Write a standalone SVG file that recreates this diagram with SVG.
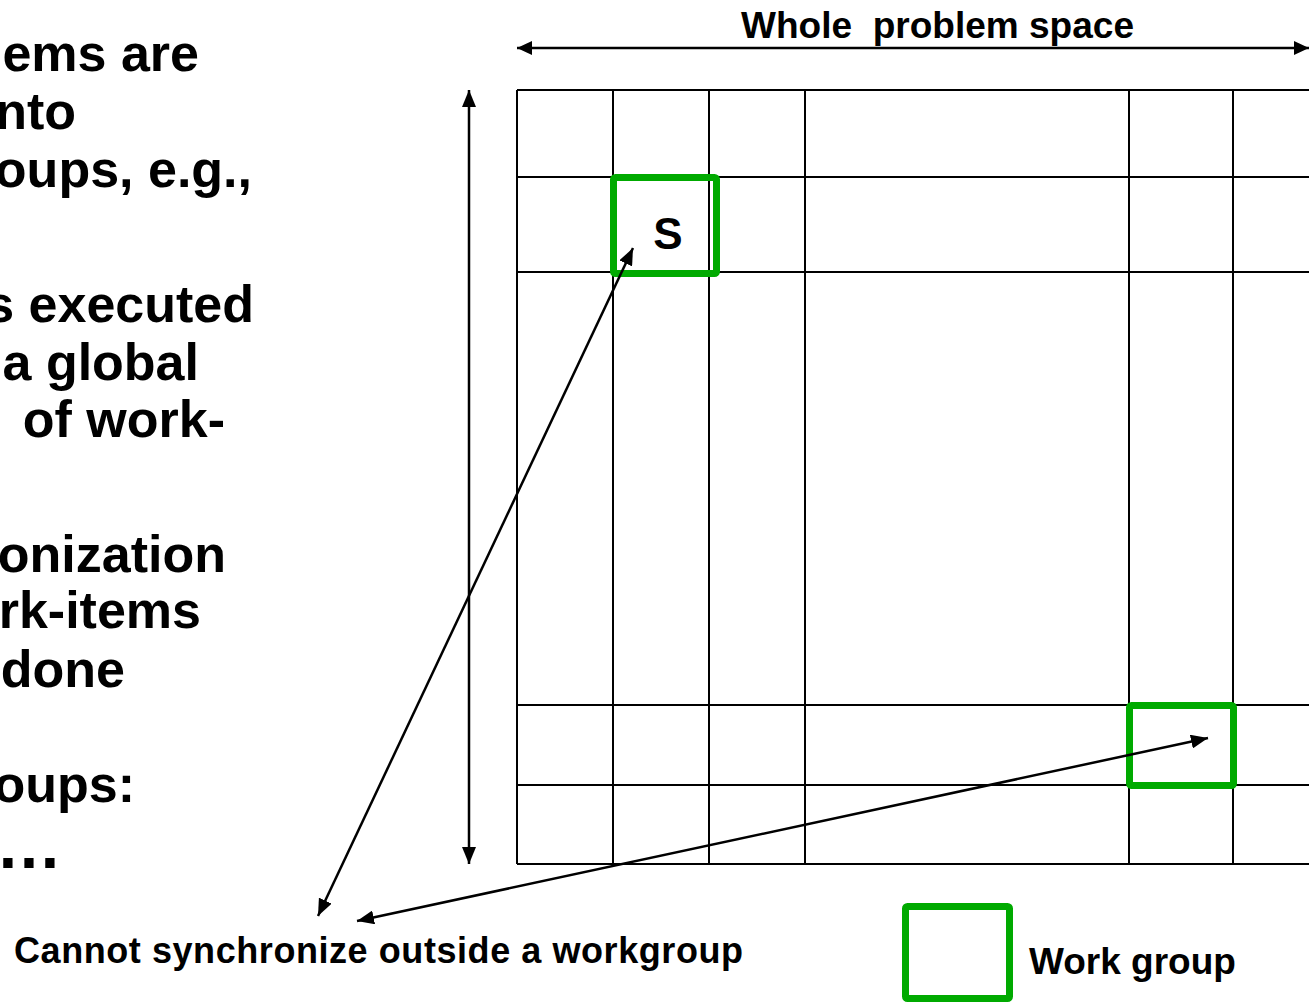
<svg xmlns="http://www.w3.org/2000/svg" width="1309" height="1002" viewBox="0 0 1309 1002">
  <style>
    text { font-family: "Liberation Sans", Arial, sans-serif; font-weight: bold; fill: #000; }
    .body { font-size: 52px; text-anchor: end; }
    .grid line { stroke: #000; stroke-width: 2; }
    .wg { fill: none; stroke: #00AA00; stroke-width: 7; }
    .conn { stroke: #000; stroke-width: 2.5; fill: none; }
  </style>
  <defs>
    <marker id="ah" markerUnits="userSpaceOnUse" markerWidth="18" markerHeight="14" refX="17" refY="7" orient="auto-start-reverse">
      <path d="M0,0 L17,7 L0,14 z" fill="#000"/>
    </marker>
    <marker id="ahs" markerUnits="userSpaceOnUse" markerWidth="16" markerHeight="14" refX="15" refY="7" orient="auto-start-reverse">
      <path d="M0,0 L15,7 L0,14 z" fill="#000"/>
    </marker>
  </defs>
  <rect width="1309" height="1002" fill="#fff"/>

  <g id="bullet-text">
    <text class="body" x="199" y="71">ems are</text>
    <text class="body" x="76" y="129">nto</text>
    <text class="body" x="252" y="187">oups, e.g.,</text>
    <text class="body" x="254" y="322">s executed</text>
    <text class="body" x="199" y="380">a global</text>
    <text class="body" x="225" y="437" xml:space="preserve"> of work-</text>
    <text class="body" x="226" y="572">onization</text>
    <text class="body" x="201" y="628">rk-items</text>
    <text class="body" x="125" y="687">done</text>
    <text class="body" x="135" y="802">oups:</text>
    <text x="62" y="868" font-size="66" text-anchor="end">…</text>
  </g>

  <g id="title">
    <text x="741" y="38" font-size="36" textLength="393" lengthAdjust="spacingAndGlyphs" xml:space="preserve">Whole  problem space</text>
  </g>

  <g id="grid" class="grid">
    <line x1="517" y1="90" x2="1310" y2="90"/>
    <line x1="517" y1="177" x2="1310" y2="177"/>
    <line x1="517" y1="272" x2="1310" y2="272"/>
    <line x1="517" y1="705" x2="1310" y2="705"/>
    <line x1="517" y1="785" x2="1310" y2="785"/>
    <line x1="517" y1="864" x2="1310" y2="864"/>
    <line x1="517" y1="90" x2="517" y2="864"/>
    <line x1="613" y1="90" x2="613" y2="864"/>
    <line x1="709" y1="90" x2="709" y2="864"/>
    <line x1="805" y1="90" x2="805" y2="864"/>
    <line x1="1129" y1="90" x2="1129" y2="864"/>
    <line x1="1233" y1="90" x2="1233" y2="864"/>
  </g>

  <g id="workgroup-s">
    <rect class="wg" x="613.5" y="177.5" width="103" height="96" rx="2"/>
    <text x="668" y="249" font-size="44" text-anchor="middle">S</text>
  </g>

  <g id="workgroup-2">
    <rect class="wg" x="1129.5" y="705.5" width="104" height="80" rx="2"/>
  </g>

  <g id="legend">
    <rect class="wg" x="905.5" y="906.5" width="104" height="92" rx="2"/>
    <text x="1029" y="974" font-size="37">Work group</text>
  </g>

  <g id="caption">
    <text x="14" y="963" font-size="36" textLength="729" lengthAdjust="spacing">Cannot synchronize outside a workgroup</text>
  </g>

  <g id="connectors">
    <line class="conn" x1="517" y1="48" x2="1309" y2="48" stroke-width="3" marker-start="url(#ahs)" marker-end="url(#ahs)"/>
    <line class="conn" x1="469" y1="90" x2="469" y2="864" marker-start="url(#ah)" marker-end="url(#ah)"/>
    <line class="conn" x1="318" y1="916" x2="633" y2="248" marker-start="url(#ah)" marker-end="url(#ah)"/>
    <line class="conn" x1="357" y1="921" x2="1208" y2="738" marker-start="url(#ah)" marker-end="url(#ah)"/>
  </g>
</svg>
